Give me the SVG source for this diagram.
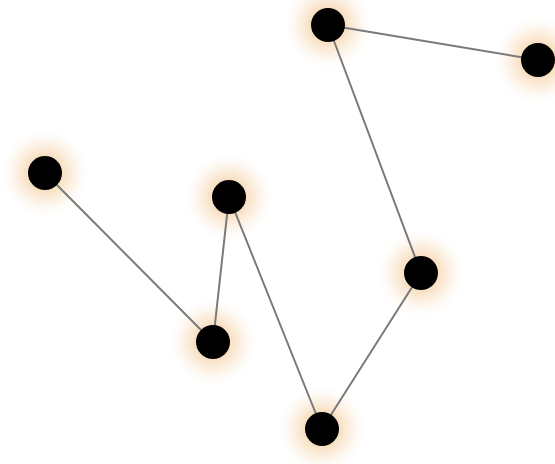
<svg xmlns="http://www.w3.org/2000/svg" width="555" height="464" viewBox="0 0 555 464">
  <defs>
    <radialGradient id="glow">
      <stop offset="0" stop-color="#f7dcbb" stop-opacity="1"/>
      <stop offset="0.38" stop-color="#f7dcbb" stop-opacity="0.9"/>
      <stop offset="0.65" stop-color="#fae8d2" stop-opacity="0.55"/>
      <stop offset="1" stop-color="#ffffff" stop-opacity="0"/>
    </radialGradient>
    <style>
      .edge { stroke: #7a7a7a; stroke-width: 2; fill: none; stroke-linecap: round; }
      .halo { fill: url(#glow); }
      .dot { fill: #000000; }
    </style>
  </defs>
  <rect width="555" height="464" fill="#ffffff"/>
  <g id="halos">
    <circle class="halo" cx="45" cy="173" r="46"/>
    <circle class="halo" cx="229" cy="197" r="46"/>
    <circle class="halo" cx="213" cy="342" r="46"/>
    <circle class="halo" cx="322" cy="429" r="46"/>
    <circle class="halo" cx="421" cy="273" r="46"/>
    <circle class="halo" cx="328" cy="25" r="46"/>
    <circle class="halo" cx="538" cy="60" r="46"/>
  </g>
  <g id="connectors">
    <line class="edge" x1="45" y1="173" x2="213" y2="342"/>
    <line class="edge" x1="213" y1="342" x2="229" y2="197"/>
    <line class="edge" x1="229" y1="197" x2="322" y2="429"/>
    <line class="edge" x1="322" y1="429" x2="421" y2="273"/>
    <line class="edge" x1="421" y1="273" x2="328" y2="25"/>
    <line class="edge" x1="328" y1="25" x2="538" y2="60"/>
  </g>
  <g id="node-a"><circle class="dot" cx="45" cy="173" r="17"/></g>
  <g id="node-b"><circle class="dot" cx="229" cy="197" r="17"/></g>
  <g id="node-c"><circle class="dot" cx="213" cy="342" r="17"/></g>
  <g id="node-d"><circle class="dot" cx="322" cy="429" r="17"/></g>
  <g id="node-e"><circle class="dot" cx="421" cy="273" r="17"/></g>
  <g id="node-f"><circle class="dot" cx="328" cy="25" r="17"/></g>
  <g id="node-g"><circle class="dot" cx="538" cy="60" r="17"/></g>
</svg>
